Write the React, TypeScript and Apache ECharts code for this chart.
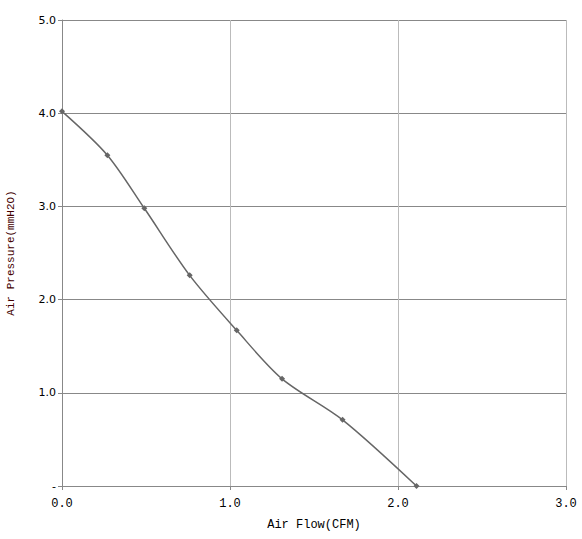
import React, { useEffect, useRef } from "react";
import * as echarts from "echarts";

const airFlow = [0, 0.27, 0.49, 0.76, 1.04, 1.31, 1.67, 2.11];
const airPressure = [4.02, 3.55, 2.98, 2.26, 1.67, 1.15, 0.71, 0.0];

export default function App() {
  const ref = useRef<HTMLDivElement>(null);
  useEffect(() => {
    const chart = echarts.init(ref.current!, null, { renderer: "svg" });
    const mono = "'Liberation Mono', 'DejaVu Sans Mono', monospace";
    chart.setOption({
      animation: false,
      backgroundColor: "#fff",
      grid: { left: 62, right: 16, top: 20, bottom: 53, containLabel: false, outerBoundsMode: "none" },
      xAxis: {
        type: "value",
        min: 0,
        max: 3,
        interval: 1,
        name: "Air Flow(CFM)",
        nameLocation: "middle",
        nameGap: 33,
        nameTextStyle: { fontFamily: mono, fontSize: 12, color: "#000" },
        axisLine: { show: true, lineStyle: { color: "#888", width: 1 } },
        axisTick: { show: true, length: 4, lineStyle: { color: "#888" } },
        axisLabel: {
          fontFamily: mono,
          fontSize: 12,
          color: "#000",
          margin: 12,
          formatter: (v: number) => v.toFixed(1),
        },
        splitLine: { show: true, lineStyle: { color: "#bbb", width: 1 } },
      },
      yAxis: {
        type: "value",
        min: 0,
        max: 5,
        interval: 1,
        name: "Air Pressure(mmH2O)",
        nameLocation: "middle",
        nameGap: 46,
        nameTextStyle: { fontFamily: mono, fontSize: 11, color: "#400" },
        axisLine: { show: true, lineStyle: { color: "#888", width: 1 } },
        axisTick: { show: true, length: 4, lineStyle: { color: "#888" } },
        axisLabel: {
          fontFamily: "'DejaVu Sans', sans-serif",
          fontSize: 11,
          color: "#000",
          margin: 6,
          formatter: (v: number) => (v === 0 ? "-" : v.toFixed(1)),
        },
        splitLine: { show: true, lineStyle: { color: "#888", width: 1 } },
      },
      series: [
        {
          type: "line",
          data: airFlow.map((x, i) => [x, airPressure[i]]),
          smooth: 0.3,
          symbol: "diamond",
          symbolSize: 6,
          showSymbol: true,
          lineStyle: { color: "#666", width: 1.5 },
          itemStyle: { color: "#666" },
        },
      ],
    });
    return () => chart.dispose();
  }, []);
  return <div ref={ref} style={{ width: 582, height: 539, position: "absolute", left: 0, top: 0 }} />;
}
